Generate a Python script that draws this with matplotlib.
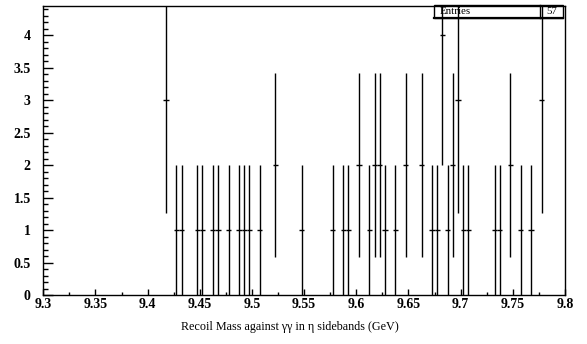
import numpy as np
import matplotlib
matplotlib.use("Agg")
import matplotlib.pyplot as plt
from matplotlib.patches import Rectangle
from matplotlib.lines import Line2D
from matplotlib.ticker import MultipleLocator, FormatStrFormatter

# Histogram contents: bin centres (GeV) and entries per bin (bin width 5 MeV)
bin_width = 0.005
bin_centers = [9.4175, 9.4275, 9.4325, 9.4475, 9.4525, 9.4625, 9.4675, 9.4775,
               9.4875, 9.4925, 9.4975, 9.5075, 9.5225, 9.5475, 9.5775, 9.5875,
               9.5925, 9.6025, 9.6125, 9.6175, 9.6225, 9.6275, 9.6375, 9.6475,
               9.6625, 9.6725, 9.6775, 9.6825, 9.6875, 9.6925, 9.6975, 9.7025,
               9.7075, 9.7325, 9.7375, 9.7475, 9.7575, 9.7675, 9.7775]
bin_counts = [3, 1, 1, 1, 1, 1, 1, 1,
              1, 1, 1, 1, 2, 1, 1, 1,
              1, 2, 1, 2, 2, 1, 1, 2,
              2, 1, 1, 4, 1, 2, 3, 1,
              1, 1, 1, 2, 1, 1, 3]
n_entries = 57

x_label = "Recoil Mass against γγ in η sidebands (GeV)"
x_range = (9.3, 9.8)
y_range = (0, 4.45)

plt.rcParams["font.family"] = ["Liberation Serif", "DejaVu Serif"]

W, H = 587, 344
fig = plt.figure(figsize=(W / 100, H / 100), dpi=100)
ax = fig.add_axes([43.3 / W, 1 - 295 / H, (565 - 43.3) / W, (295 - 6) / H])

x = np.array(bin_centers)
y = np.array(bin_counts, dtype=float)
ax.errorbar(x, y, xerr=bin_width / 2, yerr=np.sqrt(y), fmt="none",
            ecolor="black", elinewidth=1.0, capsize=0, zorder=3)

ax.set_xlim(*x_range)
ax.set_ylim(*y_range)

ax.xaxis.set_major_locator(MultipleLocator(0.05))
ax.xaxis.set_minor_locator(MultipleLocator(0.025))
ax.yaxis.set_major_locator(MultipleLocator(0.5))
ax.yaxis.set_minor_locator(MultipleLocator(0.1))
ax.yaxis.set_major_formatter(FormatStrFormatter("%g"))
ax.xaxis.set_major_formatter(FormatStrFormatter("%g"))

ax.tick_params(axis="both", which="both", direction="in", top=False, right=False,
               colors="black", width=1)
ax.tick_params(axis="x", which="major", length=4, pad=2, labelsize=10)
ax.tick_params(axis="x", which="minor", length=2.5)
ax.tick_params(axis="y", which="major", length=7, pad=9, labelsize=10)
ax.tick_params(axis="y", which="minor", length=3.5)
for lab in ax.get_xticklabels() + ax.get_yticklabels():
    lab.set_fontweight("bold")

for sp in ax.spines.values():
    sp.set_linewidth(1.0)

fig.text(290 / W, 1 - 327 / H, x_label, ha="center", va="center", fontsize=8.7)

# Statistics box
bx0, bx1, by0, by1 = 434.0, 563.0, 4.5, 18.0
fig.patches.append(Rectangle((bx0 / W, 1 - by1 / H), (bx1 - bx0) / W, (by1 - by0) / H,
                             transform=fig.transFigure, fill=False,
                             edgecolor="black", linewidth=1.0, zorder=5))
fig.lines.append(Line2D([540 / W, 540 / W], [1 - by1 / H, 1 - by0 / H],
                        transform=fig.transFigure, color="black", linewidth=1.0))
fig.lines.append(Line2D([bx0 / W, bx1 / W], [1 - (by1 + 0.4) / H, 1 - (by1 + 0.4) / H],
                        transform=fig.transFigure, color="black", linewidth=1.6))
fig.text(440 / W, 1 - 11.5 / H, "Entries", ha="left", va="center", fontsize=7.8)
fig.text(557 / W, 1 - 11.5 / H, str(n_entries), ha="right", va="center", fontsize=7.8)

fig.savefig("out.png", dpi=100)
